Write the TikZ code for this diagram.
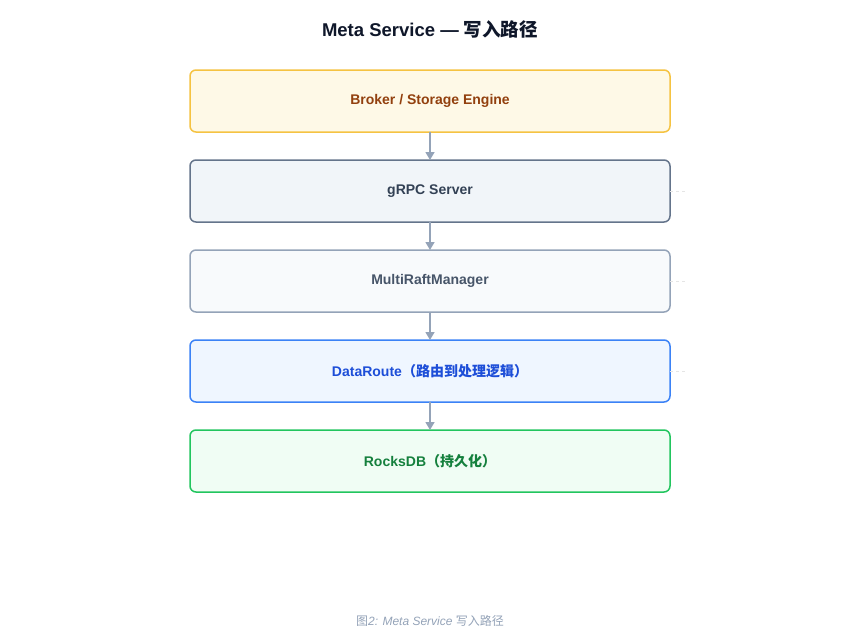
\documentclass[tikz,border=0pt]{standalone}
\usepackage{fontspec}
\setmainfont{Liberation Sans}
\newfontfamily\cjk{Noto Sans CJK SC}
\usetikzlibrary{positioning,arrows.meta}
\definecolor{arrowgray}{HTML}{94A3B8}
\definecolor{ybd}{HTML}{F5C342}\definecolor{yfl}{HTML}{FEF9E7}\definecolor{ytx}{HTML}{92400E}
\definecolor{sbd}{HTML}{64748B}\definecolor{sfl}{HTML}{F1F5F9}\definecolor{stx}{HTML}{334155}
\definecolor{mbd}{HTML}{94A3B8}\definecolor{mfl}{HTML}{F8FAFC}\definecolor{mtx}{HTML}{475569}
\definecolor{bbd}{HTML}{3B82F6}\definecolor{bfl}{HTML}{EFF6FF}\definecolor{btx}{HTML}{1D4ED8}
\definecolor{gbd}{HTML}{22C55E}\definecolor{gfl}{HTML}{F0FDF4}\definecolor{gtx}{HTML}{15803D}
\definecolor{titlec}{HTML}{0F172A}
\tikzset{
  layer/.style={draw=#1bd,fill=#1fl,text=#1tx,line width=1.5pt,rounded corners=6pt,
    minimum width=480pt,minimum height=62pt,outer sep=0pt,font=\fontsize{14}{16}\selectfont\bfseries},
  flow/.style={draw=arrowgray,line width=1.4pt,-{Triangle[length=8pt,width=9pt]}},
  stub/.style={draw=gray!20,line width=1pt,dash pattern=on 3pt off 3pt}
}
\begin{document}
\begin{tikzpicture}[x=1pt,y=-1pt,node distance=28pt]
  \useasboundingbox[fill=white] (0,0) rectangle (860,640);
  \node[font=\fontsize{18.5}{22}\selectfont\bfseries,text=titlec] (title) at (430,29) {Meta Service — {\cjk 写入路径}};
  \node[layer=y] (broker) at (430,101) {Broker / Storage Engine};
  \node[layer=s] (grpc) [below=of broker] {gRPC Server};
  \node[layer=m] (raft) [below=of grpc] {MultiRaftManager};
  \node[layer=b] (route) [below=of raft] {DataRoute{\cjk （路由到处理逻辑）}};
  \node[layer=g] (rocks) [below=of route] {RocksDB{\cjk （持久化）}};
  \draw[flow] (broker) -- (grpc);
  \draw[flow] (grpc) -- (raft);
  \draw[flow] (raft) -- (route);
  \draw[flow] (route) -- (rocks);
  % faint stubs on the right
  \foreach \n in {grpc,raft,route} {
    \coordinate (\n-end) at ([xshift=16pt]\n.east);
    \draw[stub] (\n.east) -- (\n-end);
  }
  \node[font=\fontsize{12}{14}\selectfont,text=arrowgray] (caption) at (430,621)
    {{\cjk 图}\textit{2:  Meta Service} {\cjk 写入路径}};
\end{tikzpicture}
\end{document}
